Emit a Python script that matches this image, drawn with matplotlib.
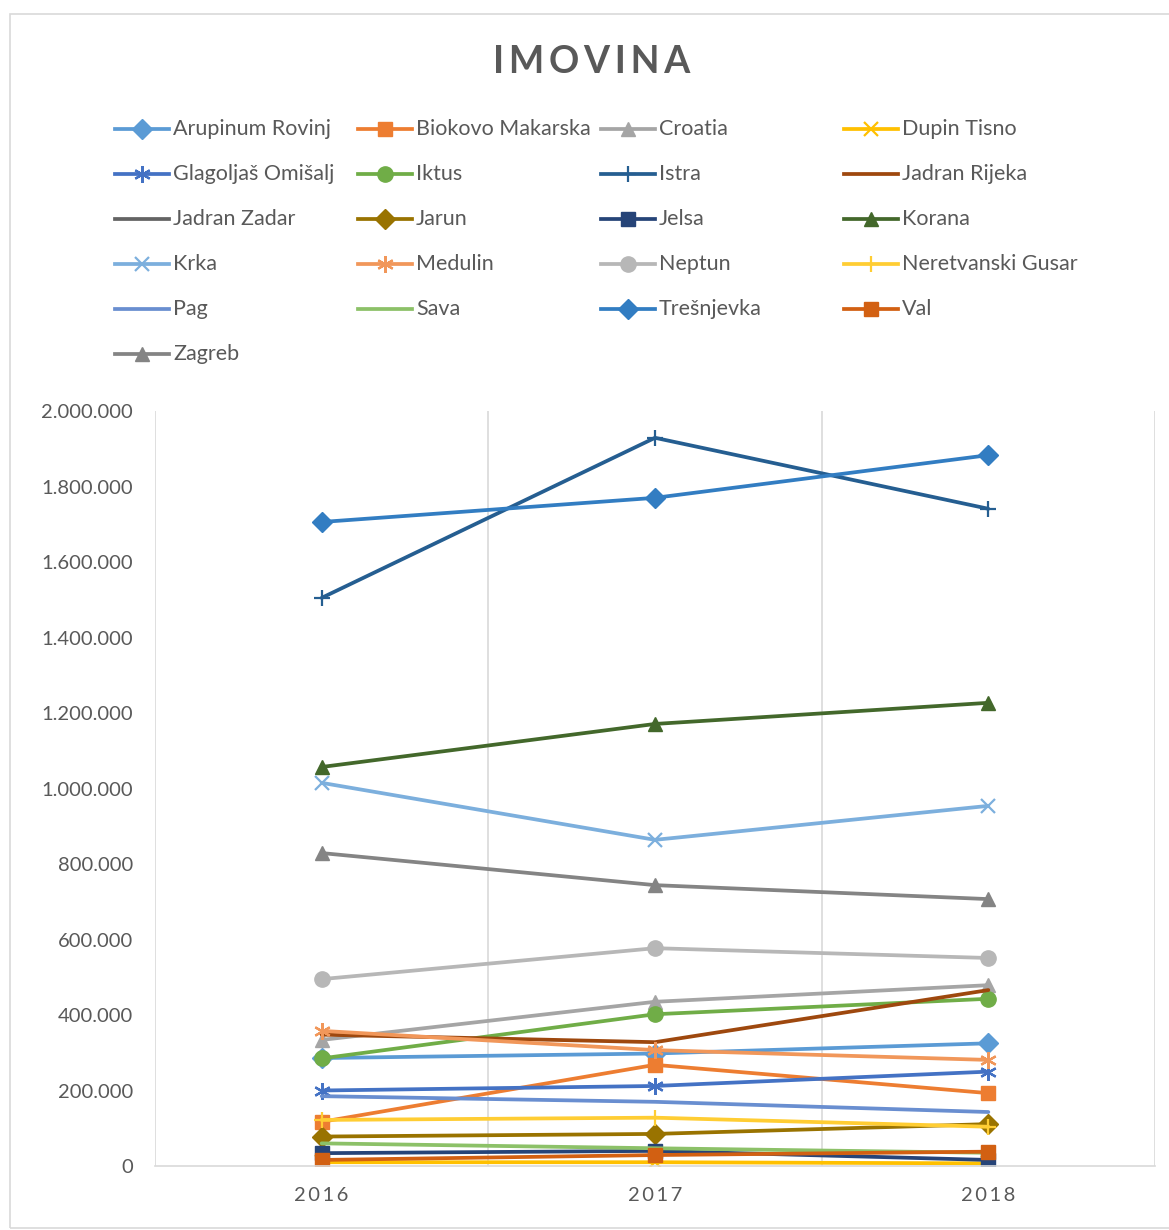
import matplotlib
matplotlib.use("Agg")
import matplotlib.pyplot as plt
from matplotlib.lines import Line2D
from matplotlib.patches import Rectangle
from matplotlib.ticker import FuncFormatter, MultipleLocator
import numpy as np

plt.rcParams['font.family'] = ['Lato', 'DejaVu Sans']

years = ["2016", "2017", "2018"]

names = ["Arupinum Rovinj", "Biokovo Makarska", "Croatia", "Dupin Tisno",
         "Glagoljaš Omišalj", "Iktus", "Istra", "Jadran Rijeka",
         "Jadran Zadar", "Jarun", "Jelsa", "Korana",
         "Krka", "Medulin", "Neptun", "Neretvanski Gusar",
         "Pag", "Sava", "Trešnjevka", "Val",
         "Zagreb"]

arupinum_rovinj = [286000, 298000, 325000]
biokovo_makarska = [117000, 268000, 193000]
croatia = [334000, 435000, 479000]
dupin_tisno = [10000, 10000, 7000]
glagoljas_omisalj = [200000, 212000, 250000]
iktus = [285000, 402000, 443000]
istra = [1505000, 1929000, 1741000]
jadran_rijeka = [348000, 328000, 466000]
jadran_zadar = [np.nan, np.nan, np.nan]
jarun = [78000, 85000, 111000]
jelsa = [34000, 40000, 16000]
korana = [1057000, 1171000, 1227000]
krka = [1015000, 864000, 954000]
medulin = [358000, 307000, 281000]
neptun = [495000, 577000, 551000]
neretvanski_gusar = [122000, 128000, 104000]
pag = [185000, 170000, 143000]
sava = [60000, 47000, 35000]
tresnjevka = [1706000, 1770000, 1883000]
val = [16000, 29000, 38000]
zagreb = [829000, 744000, 707000]

series = [arupinum_rovinj, biokovo_makarska, croatia, dupin_tisno,
          glagoljas_omisalj, iktus, istra, jadran_rijeka,
          jadran_zadar, jarun, jelsa, korana,
          krka, medulin, neptun, neretvanski_gusar,
          pag, sava, tresnjevka, val, zagreb]

colors = ["#5B9BD5", "#ED7D31", "#A5A5A5", "#FFC000",
          "#4472C4", "#70AD47", "#255E91", "#9E480E",
          "#636363", "#997300", "#264478", "#43682B",
          "#7CAFDD", "#F1975A", "#B7B7B7", "#FFCD33",
          "#698ED0", "#8CC168", "#327DC2", "#D26012",
          "#848484"]

AST = (6, 2, 0)
markers = ["D", "s", "^", "x",
           AST, "o", "+", None,
           None, "D", "s", "^",
           "x", AST, "o", "+",
           None, None, "D", "s",
           "^"]

msize = {"D": 10, "s": 10.5, "^": 10.5, "x": 10, "o": 11, "+": 12, AST: 12}

W, H = 1169, 1230
fig = plt.figure(figsize=(W / 100, H / 100), dpi=100)

# outer chart border
fig.patches.append(Rectangle((10 / W, 1 - 1228 / H), (W + 5 - 10) / W, (1228 - 14) / H,
                             transform=fig.transFigure, fill=False,
                             edgecolor="#D9D9D9", linewidth=1.2))

ax = fig.add_axes([155 / W, 1 - 1166 / H, (1155 - 155) / W, (1166 - 411) / H])
x = np.arange(len(years))

for vals, c, m in zip(series, colors, markers):
    kw = dict(color=c, linewidth=2.7, solid_capstyle="round")
    if m is not None:
        kw.update(marker=m, markersize=msize[m], markerfacecolor=c, markeredgecolor=c,
                  markeredgewidth=1.6 if m in ("x", "+", AST) else 1.0)
    ax.plot(x, vals, **kw)

ax.set_xlim(-0.5, 2.5)
ax.set_ylim(0, 2000000)
ax.yaxis.set_major_locator(MultipleLocator(200000))
ax.yaxis.set_major_formatter(FuncFormatter(lambda v, p: "0" if v == 0 else f"{int(v):,}".replace(",", ".")))
ax.set_xticks(x)
ax.set_xticklabels(["\u2009".join(list(y)) for y in years])
for xv in [-0.5, 0.5, 1.5, 2.5]:
    ax.axvline(xv, color="#D9D9D9", linewidth=1.2, zorder=0)
for s in ["top", "right", "left"]:
    ax.spines[s].set_visible(False)
ax.spines["bottom"].set_color("#D9D9D9")
ax.spines["bottom"].set_linewidth(1.2)
ax.tick_params(axis="both", length=0, colors="#595959", labelsize=14.5)
ax.tick_params(axis="y", pad=16)
ax.tick_params(axis="x", pad=15)
ax.set_facecolor("none")

fig.text(592 / W, 1 - 62 / H, "\u2009".join("IMOVINA"), ha="center", va="center",
         fontsize=27, fontweight="bold", color="#595959")

# legend (row-major like the original)
col_x = [115, 358, 601, 844]
row_y = [128, 173, 218, 263, 308, 353]
for i, (n, c, m) in enumerate(zip(names, colors, markers)):
    r, cidx = divmod(i, 4)
    x0 = col_x[cidx]
    yy = 1 - (row_y[r] + 1) / H
    ln = Line2D([x0 / W, (x0 + 54) / W], [yy, yy], transform=fig.transFigure,
                color=c, linewidth=2.7)
    fig.lines.append(ln)
    if m is not None:
        mk = Line2D([(x0 + 27) / W], [yy], transform=fig.transFigure, color=c,
                    marker=m, markersize=msize[m], markerfacecolor=c, markeredgecolor=c,
                    markeredgewidth=1.6 if m in ("x", "+", AST) else 1.0, linestyle="none")
        fig.lines.append(mk)
    fig.text((x0 + 58) / W, yy, n, ha="left", va="center", fontsize=15.5, color="#595959")

fig.savefig("out.png", dpi=100, facecolor="white")
